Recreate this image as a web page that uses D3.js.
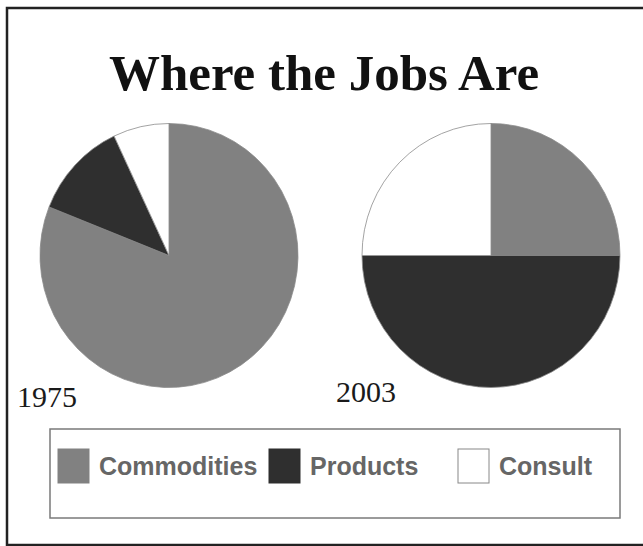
<!DOCTYPE html>
<html>
<head>
<meta charset="utf-8">
<script src="https://cdn.jsdelivr.net/npm/d3@7"></script>
<style>
  html, body { margin: 0; padding: 0; background: #fff; }
  svg { display: block; }
</style>
</head>
<body>
<script>
// chart data
var categories = ['Commodities', 'Products', 'Consult'];
var years = ['1975', '2003'];
var values1975 = [81, 12, 7];
var values2003 = [25, 50, 25];
var title = 'Where the Jobs Are';

var width = 643, height = 546;
var colors = d3.scaleOrdinal()
  .domain(categories)
  .range(['#818181', '#2f2f2f', '#ffffff']);

var svg = d3.select('body').append('svg')
  .attr('width', width)
  .attr('height', height);

// outer frame (right side runs off the picture)
svg.append('rect')
  .attr('x', 7).attr('y', 8)
  .attr('width', 645).attr('height', 537)
  .attr('fill', 'none')
  .attr('stroke', '#222')
  .attr('stroke-width', 2.5);

svg.append('text')
  .attr('x', 324).attr('y', 90)
  .attr('text-anchor', 'middle')
  .attr('font-family', '"Liberation Serif", "Times New Roman", serif')
  .attr('font-weight', 'bold')
  .attr('font-size', 51)
  .attr('fill', '#111')
  .text(title);

// pies
var xPie = d3.scalePoint().domain(years).range([169, 491]);
var rPie = 132;
var pie = d3.pie().sort(null).value(function(d) { return d; });
var arc = d3.arc().innerRadius(0).outerRadius(rPie);

var pieData = [values1975, values2003];

years.forEach(function(yr, i) {
  var g = svg.append('g')
    .attr('transform', 'translate(' + xPie(yr) + ',255.5) scale(' + (129 / 132) + ',1)');
  g.selectAll('path')
    .data(pie(pieData[i]))
    .enter()
    .append('path')
    .attr('d', arc)
    .attr('fill', function(d, j) { return colors(categories[j]); })
    .attr('stroke', '#8a8a8a')
    .attr('stroke-width', 0.8);
});

// year labels
var yearLabelPos = [[17, 407], [336, 402]];
svg.selectAll('text.year')
  .data(years)
  .enter()
  .append('text')
  .attr('class', 'year')
  .attr('x', function(d, i) { return yearLabelPos[i][0]; })
  .attr('y', function(d, i) { return yearLabelPos[i][1]; })
  .attr('font-family', '"Liberation Serif", "Times New Roman", serif')
  .attr('font-size', 30)
  .attr('fill', '#1a1a1a')
  .text(function(d) { return d; });

// legend
svg.append('rect')
  .attr('x', 50).attr('y', 429)
  .attr('width', 570).attr('height', 89)
  .attr('fill', 'none')
  .attr('stroke', '#7a7a7a')
  .attr('stroke-width', 1.5);

var legendX = [58, 269, 458];
var leg = svg.selectAll('g.leg')
  .data(categories)
  .enter()
  .append('g')
  .attr('class', 'leg')
  .attr('transform', function(d, i) { return 'translate(' + legendX[i] + ',449)'; });

leg.append('rect')
  .attr('width', 31).attr('height', 34)
  .attr('fill', function(d) { return colors(d); })
  .attr('stroke', function(d) { return d === 'Consult' ? '#888' : colors(d); })
  .attr('stroke-width', 1);

leg.append('text')
  .attr('x', 41).attr('y', 26)
  .attr('font-family', '"Liberation Sans", Arial, sans-serif')
  .attr('font-weight', 'bold')
  .attr('font-size', 25)
  .attr('fill', '#666')
  .text(function(d) { return d; });
</script>
</body>
</html>
